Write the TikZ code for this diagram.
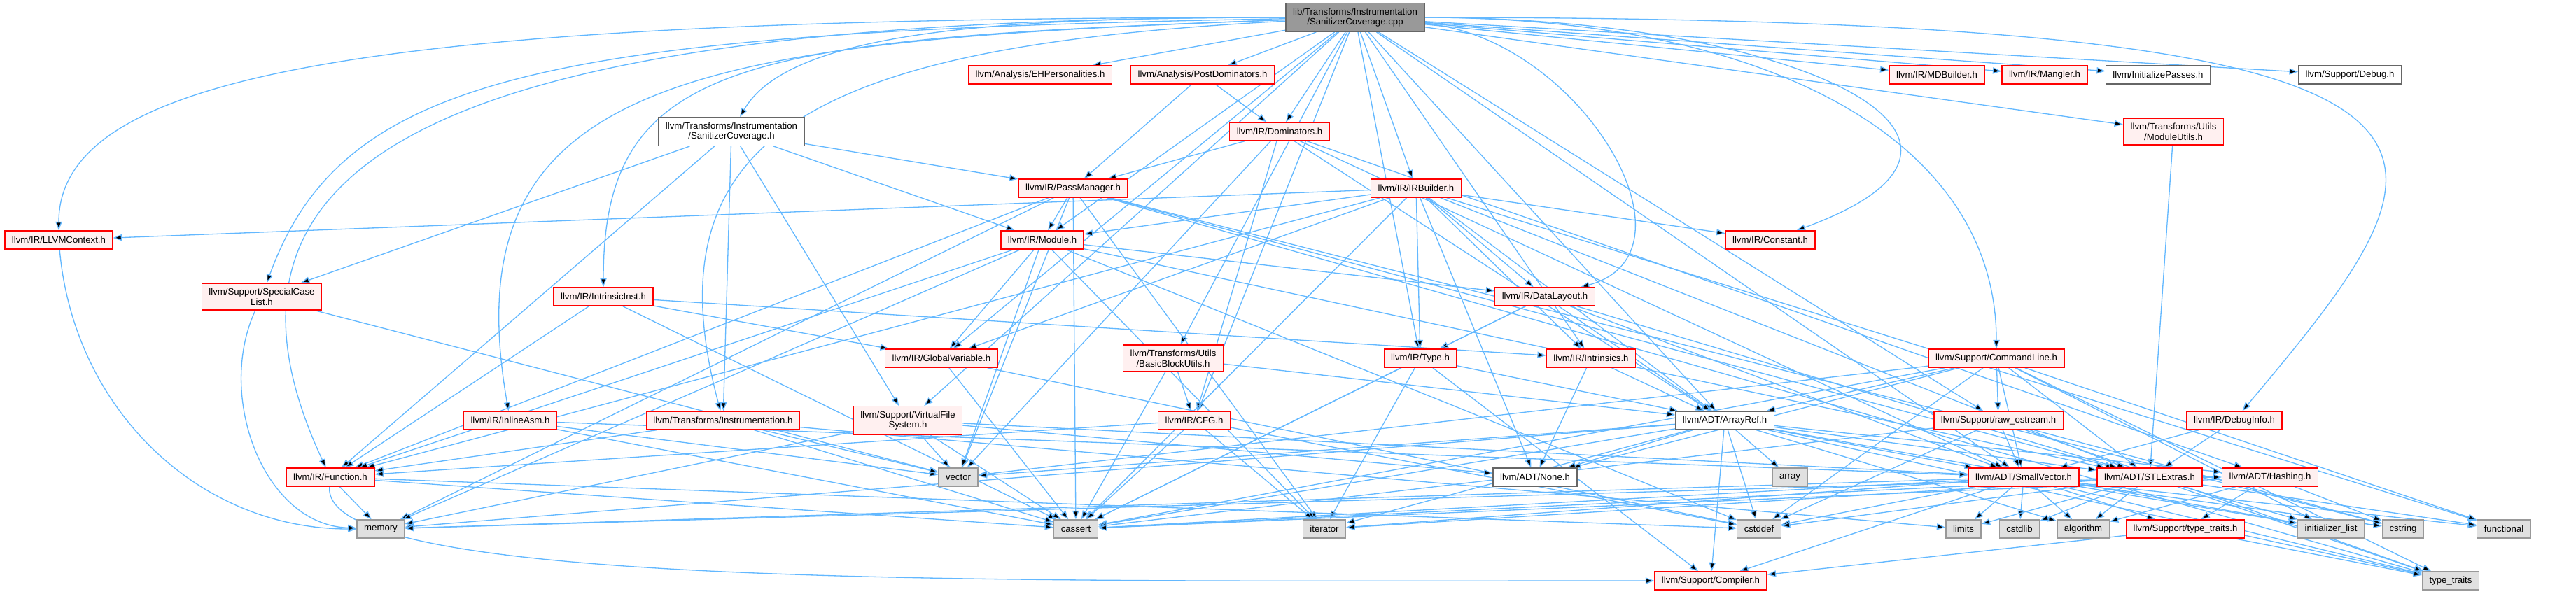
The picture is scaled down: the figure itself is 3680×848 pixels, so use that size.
\documentclass[tikz,border=0pt]{standalone}
\usepackage{fontspec}
\setmainfont{Liberation Sans}
\usepackage{tikz}
\usetikzlibrary{arrows.meta}
\definecolor{edgeblue}{HTML}{63B8FF}
\definecolor{truncfill}{HTML}{FFF0F0}
\definecolor{sysfill}{HTML}{E0E0E0}
\definecolor{sysline}{HTML}{999999}
\definecolor{rootfill}{HTML}{999999}
\definecolor{fileline}{HTML}{666666}
\pgfdeclarelayer{edges}
\pgfsetlayers{edges,main}
\tikzset{
  filenode/.style={rectangle,draw=fileline,fill=white,line width=0.34pt,minimum height=6.5pt,inner xsep=2.5pt,inner ysep=1.7pt,align=center},
  rootfile/.style={filenode,fill=rootfill},
  truncfile/.style={filenode,draw=red,fill=truncfill},
  sysfile/.style={filenode,draw=sysline,fill=sysfill},
  incl/.style={draw=edgeblue,line width=0.33pt}
}

\begin{document}
\begin{tikzpicture}[x=0.25pt,y=-0.25pt,>={Triangle[length=3.1pt,width=2.3pt]},font=\fontsize{3.3}{3.67}\selectfont]
        \useasboundingbox (0,0) rectangle (3680,848);
        % Ranks of the include graph, top to bottom, positions in pixels.
        \node[rootfile] (root) at (1936,25) {lib/Transforms/Instrumentation\\/SanitizerCoverage.cpp};
        \node[truncfile] (ehp) at (1486,107) {llvm/Analysis/EHPersonalities.h};
        \node[truncfile] (pdom) at (1718,107) {llvm/Analysis/PostDominators.h};
        \node[truncfile] (mdb) at (2767,107) {llvm/IR/MDBuilder.h};
        \node[truncfile] (mang) at (2921,107) {llvm/IR/Mangler.h};
        \node[filenode] (initp) at (3083,107) {llvm/InitializePasses.h};
        \node[filenode] (dbg) at (3357,107) {llvm/Support/Debug.h};
        \node[filenode] (sch) at (1045,188) {llvm/Transforms/Instrumentation\\/SanitizerCoverage.h};
        \node[truncfile] (dom) at (1828,188) {llvm/IR/Dominators.h};
        \node[truncfile] (modu) at (3105,188) {llvm/Transforms/Utils\\/ModuleUtils.h};
        \node[truncfile] (pm) at (1533,269) {llvm/IR/PassManager.h};
        \node[truncfile] (irb) at (2023,269) {llvm/IR/IRBuilder.h};
        \node[truncfile] (ctx) at (84,343) {llvm/IR/LLVMContext.h};
        \node[truncfile] (module) at (1489,343) {llvm/IR/Module.h};
        \node[truncfile] (cnst) at (2529,343) {llvm/IR/Constant.h};
        \node[truncfile] (scl) at (374,424) {llvm/Support/SpecialCase\\List.h};
        \node[truncfile] (iinst) at (862,424) {llvm/IR/IntrinsicInst.h};
        \node[truncfile] (dl) at (2207,424) {llvm/IR/DataLayout.h};
        \node[truncfile] (gv) at (1345,512) {llvm/IR/GlobalVariable.h};
        \node[truncfile] (bbu) at (1676,512) {llvm/Transforms/Utils\\/BasicBlockUtils.h};
        \node[truncfile] (type) at (2029,512) {llvm/IR/Type.h};
        \node[truncfile] (intr) at (2273,512) {llvm/IR/Intrinsics.h};
        \node[truncfile] (cl) at (2852,512) {llvm/Support/CommandLine.h};
        \node[truncfile] (inlasm) at (729,601) {llvm/IR/InlineAsm.h};
        \node[truncfile] (instr) at (1033,601) {llvm/Transforms/Instrumentation.h};
        \node[truncfile] (vfs) at (1297,601) {llvm/Support/VirtualFile\\System.h};
        \node[truncfile] (cfg) at (1706,601) {llvm/IR/CFG.h};
        \node[filenode] (aref) at (2464,601) {llvm/ADT/ArrayRef.h};
        \node[truncfile] (rawos) at (2855,601) {llvm/Support/raw\_ostream.h};
        \node[truncfile] (dinfo) at (3192,601) {llvm/IR/DebugInfo.h};
        \node[truncfile] (func) at (472,682) {llvm/IR/Function.h};
        \node[sysfile] (vector) at (1369,682) {vector};
        \node[filenode] (none) at (2193,682) {llvm/ADT/None.h};
        \node[sysfile] (array) at (2557,682) {array};
        \node[truncfile] (svec) at (2891,682) {llvm/ADT/SmallVector.h};
        \node[truncfile] (stl) at (3071,682) {llvm/ADT/STLExtras.h};
        \node[truncfile] (hash) at (3243,682) {llvm/ADT/Hashing.h};
        \node[sysfile] (memory) at (544,756) {memory};
        \node[sysfile] (cassert) at (1537,756) {cassert};
        \node[sysfile] (iterator) at (1892,756) {iterator};
        \node[sysfile] (cstddef) at (2513,756) {cstddef};
        \node[sysfile] (limits) at (2805,756) {limits};
        \node[sysfile] (cstdlib) at (2885,756) {cstdlib};
        \node[sysfile] (algorithm) at (2976,756) {algorithm};
        \node[truncfile] (tt) at (3122,756) {llvm/Support/type\_traits.h};
        \node[sysfile] (initlist) at (3330,756) {initializer\_list};
        \node[sysfile] (cstring) at (3433,756) {cstring};
        \node[sysfile] (functional) at (3577,756) {functional};
        \node[truncfile] (compiler) at (2444,830) {llvm/Support/Compiler.h};
        \node[sysfile] (typetraits) at (3501,830) {type\_traits};
        % Edges go under the boxes, so long ones pass behind them.
        \begin{pgfonlayer}{edges}
        \path[->,incl]
          (root) edge[out=180,in=90,out looseness=1.8,in looseness=0.34] (ctx)
                 edge[out=180,in=115,out looseness=2,in looseness=0.85] (func)
                 edge[out=181,in=70,out looseness=1.8,in looseness=0.54] (scl)
                 edge[out=182,in=100,out looseness=1.75,in looseness=1] (inlasm)
                 edge[out=182,in=90,out looseness=1.9,in looseness=0.8] (iinst)
                 edge[out=183,in=105,out looseness=1.7,in looseness=1.1] (instr)
                 edge[out=180,in=60,out looseness=1.25,in looseness=0.47] (sch)
                 edge[out=0,in=20,out looseness=2.2,in looseness=1.6] (cnst)
                 edge[out=-5,in=15,out looseness=1.3,in looseness=1.1] (dl)
                 edge[out=0,in=90,out looseness=1.35,in looseness=0.8] (cl)
                 edge[out=0,in=50,out looseness=3.2,in looseness=1] (dinfo)
                 edge (ehp) edge (pdom) edge (dom) edge (irb) edge (mdb) edge (mang)
                 edge (initp) edge (dbg) edge (modu) edge (module)
                 edge (gv) edge (bbu) edge (type) edge (intr)
                 edge (vfs) edge (cfg) edge (aref) edge (rawos) edge (svec)
          (sch) edge (func) edge (module) edge (pm) edge (scl) edge (vfs) edge (instr)
          (pdom) edge (dom) edge (pm)
          (dom) edge (pm) edge (cfg) edge (aref) edge (svec) edge (hash) edge (vector)
          (modu) edge (stl)
          (pm) edge (func) edge (module) edge (stl) edge (cassert) edge (cstring)
               edge (iterator) edge (memory) edge (typetraits) edge (vector)
          (irb) edge (aref) edge (none) edge (stl) edge (cnst) edge (dl) edge (func)
                edge (gv) edge (intr) edge (ctx) edge (module) edge (type)
                edge (cassert) edge (functional)
          (module) edge (dl) edge (func) edge (gv) edge (stl) edge (cstddef)
                   edge (iterator) edge (memory) edge (vector)
          (ctx) edge[out=-85,in=180] (memory)
          (scl) edge[out=-115,in=178] (memory) edge (vector)
          (iinst) edge (func) edge (gv) edge (intr) edge (cassert)
          (gv) edge (cassert) edge (cstddef)
          (bbu) edge (aref) edge (cfg) edge (cassert)
          (dl) edge (aref) edge (stl) edge (svec) edge (type) edge (cassert)
          (type) edge (aref) edge (compiler) edge (cassert) edge (iterator)
          (intr) edge (aref) edge (none)
          (cl) edge (aref) edge (none) edge (stl) edge (svec) edge (rawos)
               edge (cassert) edge (cstddef) edge (functional) edge (initlist)
               edge (typetraits) edge (vector)
          (inlasm) edge (svec) edge (cassert) edge (vector)
          (instr) edge (func) edge (cassert) edge (limits) edge (vector)
          (vfs) edge (none) edge (svec) edge (cassert) edge (memory) edge (vector)
          (cfg) edge (func) edge (cassert) edge (cstddef) edge (iterator)
          (aref) edge (hash) edge (none) edge (stl) edge (svec) edge (compiler)
                 edge (algorithm) edge (array) edge (cassert) edge (cstddef)
                 edge (initlist) edge (iterator) edge (memory) edge (typetraits)
                 edge (vector)
          (rawos) edge (svec) edge (cassert) edge (cstddef) edge (cstring) edge (typetraits)
          (dinfo) edge (stl) edge (svec)
          (func) edge[out=-95,in=180,out looseness=0.2,in looseness=1.26] (compiler)
                 edge (cassert) edge (cstddef) edge (memory)
          (svec) edge (compiler) edge (tt) edge (algorithm) edge (cassert) edge (cstddef)
                 edge (cstdlib) edge (cstring) edge (functional) edge (initlist)
                 edge (iterator) edge (limits) edge (memory) edge (typetraits)
          (stl) edge (hash) edge (algorithm) edge (cassert) edge (cstddef) edge (cstdlib)
                edge (functional) edge (initlist) edge (iterator) edge (limits)
                edge (memory) edge (typetraits)
          (hash) edge (tt) edge (algorithm) edge (cassert) edge (cstring)
          (tt) edge (compiler) edge (typetraits);
        \end{pgfonlayer}
      \end{tikzpicture}
\end{document}
